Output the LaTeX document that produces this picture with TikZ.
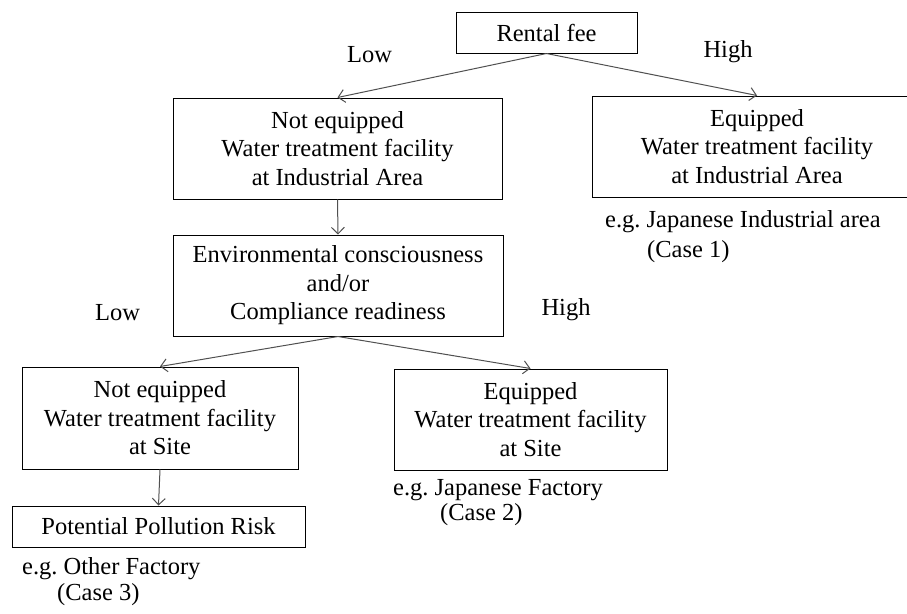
\documentclass[tikz,border=0pt]{standalone}
\usepackage{fontspec}
\setmainfont{Liberation Serif}
\usetikzlibrary{arrows.meta}
\definecolor{arrowgray}{HTML}{505050}
\tikzset{
  box/.style={rectangle,draw=black,line width=1pt,align=center,inner sep=0pt,font=\fontsize{24.5}{28.5}\selectfont},
  tag/.style={inner sep=0pt,font=\fontsize{24.5}{28.5}\selectfont},
  line/.style={-{Straight Barb[length=6.5pt,width=13pt]},draw=arrowgray,line width=1pt}
}
\frenchspacing

\begin{document}
\begin{tikzpicture}[x=1pt,y=-1pt]
\clip (0,0) rectangle (907,613);
% decision boxes
\node[box, minimum width=181pt, minimum height=41pt] (fee) at (546.5,32.5) {Rental fee};
\node[box, minimum width=329pt, minimum height=101pt] (noarea) at (337.5,148.5) {Not equipped\\Water treatment facility\\at Industrial Area};
\node[box, minimum width=330pt, minimum height=101pt] (area) at (757,146.5) {Equipped\\Water treatment facility\\at Industrial Area};
\node[box, minimum width=330pt, minimum height=101pt] (env) at (338,285.5) {Environmental consciousness\\and/or\\Compliance readiness};
\node[box, minimum width=276pt, minimum height=102pt] (nosite) at (160,418) {Not equipped\\Water treatment facility\\at Site};
\node[box, minimum width=273pt, minimum height=101pt] (site) at (530.5,419.5) {Equipped\\Water treatment facility\\at Site};
\node[box, minimum width=293pt, minimum height=41pt] (risk) at (158.5,526.5) {Potential Pollution Risk};
% branch labels
\node[tag] (lowfee) at (369.5,55) {Low};
\node[tag] (highfee) at (728,52) {High};
\node[tag] (lowenv) at (117.5,313) {Low};
\node[tag] (highenv) at (566,310) {High};
% examples
\node[tag, anchor=west] (case1) at (605,222) {e.g. Japanese Industrial area};
\node[tag, anchor=west] (case1n) at (647,252) {(Case 1)};
\node[tag, anchor=west] (case2) at (393,490) {e.g. Japanese Factory};
\node[tag, anchor=west] (case2n) at (440,515) {(Case 2)};
\node[tag, anchor=west] (case3) at (22,569) {e.g. Other Factory};
\node[tag, anchor=west] (case3n) at (57,595) {(Case 3)};
% connectors
\draw[line] (fee.south) -- (noarea.north);
\draw[line] (fee.south) -- (area.north);
\draw[line] (noarea.south) -- (env.north);
\draw[line] (env.south) -- (nosite.north);
\draw[line] (env.south) -- (site.north);
\draw[line] (nosite.south) -- (risk.north);
\end{tikzpicture}
\end{document}
